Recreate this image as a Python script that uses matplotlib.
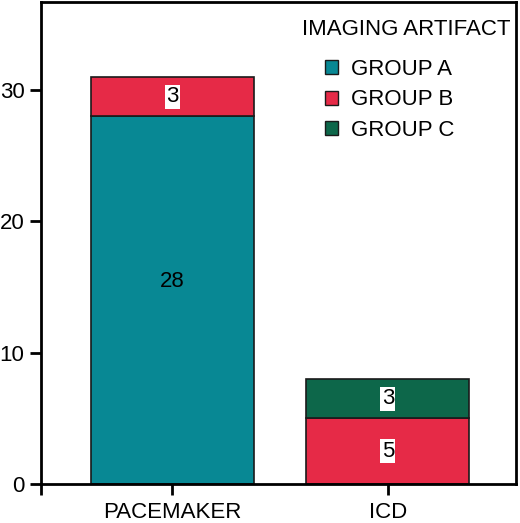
import matplotlib
matplotlib.use("Agg")
import matplotlib.pyplot as plt
import matplotlib.patches as mpatches

plt.rcParams["font.family"] = ["Liberation Sans", "DejaVu Sans"]

# data
devices  = ["PACEMAKER", "ICD"]
group_a  = [28, 0]
group_b  = [3, 5]
group_c  = [0, 3]
groups   = ["GROUP A", "GROUP B", "GROUP C"]
colors   = ["#088894", "#E62A47", "#0D674A"]
y_ticks  = [0, 10, 20, 30]

FS = 16

fig = plt.figure(figsize=(5.2, 5.23), dpi=100)
ax = fig.add_axes([0.079, 0.0746, 0.913, 0.921])

x = list(range(len(devices)))
width = 0.755
series = [group_a, group_b, group_c]
bottoms = [0] * len(devices)
for gi, vals in enumerate(series):
    for i, v in enumerate(vals):
        if v == 0:
            continue
        ax.bar(x[i], v, width=width, bottom=bottoms[i], color=colors[gi],
               edgecolor="#1a1a1a", linewidth=1.2, zorder=2)
        if v >= 10:
            # big segment: label sits a little above the middle
            ax.text(x[i], bottoms[i] + v * 0.55, str(v), ha="center",
                    va="center", fontsize=FS)
        else:
            ax.text(x[i], bottoms[i] + v / 2, str(v), ha="center", va="center",
                    fontsize=FS,
                    bbox=dict(boxstyle="square,pad=0.06", facecolor="white",
                              edgecolor="none"))
        bottoms[i] += v

xl = (-0.607, 1.593)
ax.set_xlim(*xl)
ax.set_ylim(0, 36.7)
ax.set_xticks(x)
ax.set_xticklabels(devices)
ax.set_xticks([xl[0]], minor=True)
ax.set_yticks(y_ticks)
ax.tick_params(axis="both", which="both", labelsize=FS, width=2, length=8, pad=4)
ax.tick_params(axis="x", pad=5)
for s in ax.spines.values():
    s.set_linewidth(2)

# legend: title as its own text, entries below it
ax.text(0.988, 0.944, "IMAGING ARTIFACT", transform=ax.transAxes,
        ha="right", va="center", fontsize=FS)
handles = [mpatches.Patch(facecolor=c, edgecolor="#1a1a1a", linewidth=1, label=g)
           for c, g in zip(colors, groups)]
ax.legend(handles=handles, loc="upper left", bbox_to_anchor=(0.597, 0.882),
          frameon=False, fontsize=FS, handlelength=0.6, handleheight=0.6,
          handletextpad=0.6, labelspacing=0.42, borderaxespad=0, borderpad=0)

fig.savefig("out.png", dpi=100)
